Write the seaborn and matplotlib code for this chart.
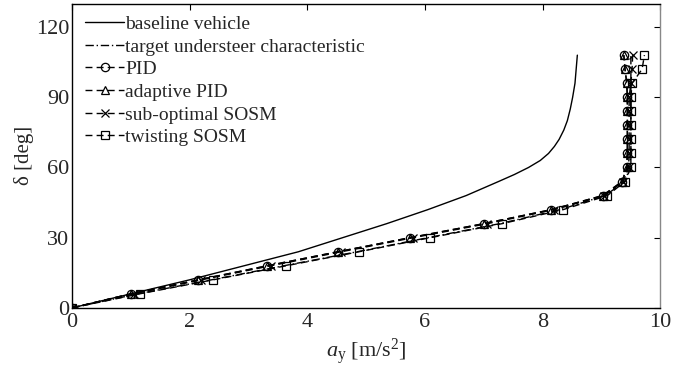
import matplotlib
matplotlib.use("Agg")
import matplotlib.pyplot as plt
import seaborn as sns
import pandas as pd

sns.set_theme(style="white")
plt.rcParams["font.family"] = ["Liberation Serif", "DejaVu Serif"]
plt.rcParams["mathtext.fontset"] = "custom"
plt.rcParams["mathtext.rm"] = "Liberation Serif"
plt.rcParams["mathtext.it"] = "Liberation Serif:italic"

# steering angle samples [deg]
delta = [0, 6, 12, 18, 24, 30, 36, 42, 48, 54, 60, 66, 72, 78, 84, 90, 96, 102, 108]

# baseline vehicle is drawn as a smooth line, read at its own angles
baseline_delta = [0, 12, 24, 36, 42, 48, 54, 57, 60, 63, 66, 69, 72, 76, 80, 85, 90, 96, 102, 108]
baseline = [0, 2.0, 3.85, 5.35, 6.05, 6.7, 7.25, 7.52, 7.76, 7.96, 8.1, 8.2, 8.28, 8.36, 8.42, 8.47, 8.51, 8.55, 8.57, 8.59]

# lateral acceleration [m/s^2] for each controller curve
target = [0, 1.12, 2.37, 3.6, 4.85, 6.05, 7.27, 8.3, 9.06, 9.4, 9.48, 9.5, 9.5, 9.5, 9.5, 9.5, 9.5, 9.5, 9.5]
pid = [0, 1.0, 2.15, 3.32, 4.52, 5.75, 7.0, 8.15, 9.02, 9.35, 9.43, 9.44, 9.44, 9.44, 9.44, 9.44, 9.43, 9.4, 9.38]
adaptive_pid = [0, 1.0, 2.15, 3.32, 4.52, 5.74, 7.0, 8.15, 9.02, 9.35, 9.43, 9.44, 9.44, 9.44, 9.44, 9.44, 9.43, 9.4, 9.38]
sub_optimal = [0, 1.05, 2.2, 3.38, 4.58, 5.8, 7.06, 8.2, 9.05, 9.37, 9.46, 9.47, 9.47, 9.47, 9.47, 9.47, 9.5, 9.52, 9.53]
twisting = [0, 1.15, 2.4, 3.64, 4.88, 6.09, 7.31, 8.35, 9.1, 9.4, 9.5, 9.5, 9.5, 9.5, 9.5, 9.5, 9.52, 9.69, 9.73]

series = [
    ("baseline vehicle", baseline_delta, baseline, "-", None),
    ("target understeer characteristic", delta, target, (0, (6, 2, 1, 2)), None),
    ("PID", delta, pid, (0, (5, 3)), "o"),
    ("adaptive PID", delta, adaptive_pid, (0, (5, 3)), "^"),
    ("sub-optimal SOSM", delta, sub_optimal, (0, (5, 3)), "x"),
    ("twisting SOSM", delta, twisting, (0, (5, 3)), "s"),
]

fig, ax = plt.subplots(figsize=(6.98, 3.67), dpi=100)
fig.subplots_adjust(left=0.103, right=0.946, bottom=0.161, top=0.99)

for name, ys, vals, ls, mk in series:
    df = pd.DataFrame({"ay": vals, "delta": ys})
    sns.lineplot(data=df, x="ay", y="delta", orient="y", ax=ax, color="black",
                 linewidth=1.0, linestyle=ls, marker=mk, markersize=6,
                 markerfacecolor="none", markeredgecolor="black",
                 markeredgewidth=0.9, label=name)

ax.set_xlim(0, 10)
ax.set_ylim(0, 130)
ax.set_xticks([0, 2, 4, 6, 8, 10])
ax.set_yticks([0, 30, 60, 90, 120])
ax.tick_params(direction="in", length=4, labelsize=16, color="black", width=0.8)
ax.tick_params(axis="x", pad=4)
ax.tick_params(axis="y", pad=2)
ax.tick_params(top=True, right=True)
ax.set_xlabel(r"$a_{\mathrm{y}}$ [m/s$^2$]", fontsize=16, labelpad=3)
ax.set_ylabel("δ [deg]", fontsize=15, labelpad=1)
for side in ["left", "bottom", "top"]:
    ax.spines[side].set_color("black")
    ax.spines[side].set_linewidth(1.0)
ax.spines["right"].set_color("#888888")
ax.spines["right"].set_linewidth(1.0)

leg = ax.legend(loc="upper left", frameon=False, fontsize=14, handlelength=2.0,
                handletextpad=0.05, labelspacing=0.26, borderaxespad=0.2,
                bbox_to_anchor=(0.003, 1.0))

fig.savefig("out.png", dpi=100)
